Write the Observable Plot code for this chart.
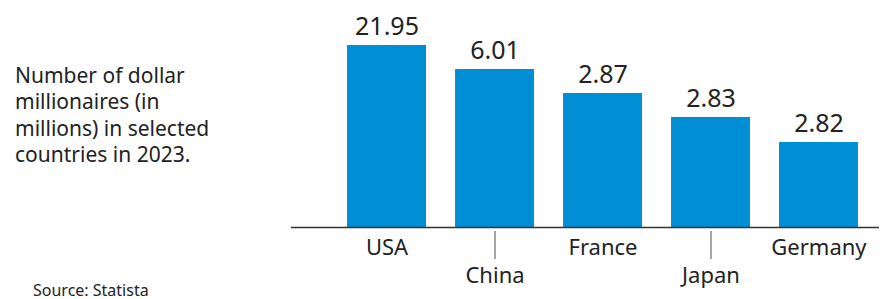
<!DOCTYPE html>
<html>
<head>
<meta charset="utf-8">
<script src="https://cdn.jsdelivr.net/npm/d3@7"></script>
<script src="https://cdn.jsdelivr.net/npm/@observablehq/plot@0.6"></script>
<style>
  html, body { margin: 0; padding: 0; background: #fff; }
  #wrap { position: relative; width: 884px; height: 299px; overflow: hidden; font-family: "Noto Sans", sans-serif; color: #222; }
  #chart { position: absolute; left: 0; top: 0; }
  #desc { position: absolute; left: 15px; top: 62px; width: 240px; font-size: 21px; line-height: 26.3px; color: #222; }
  #source { position: absolute; left: 33px; top: 283px; font-size: 16px; line-height: 14px; color: #222; white-space: nowrap; }
</style>
</head>
<body>
<div id="wrap">
  <div id="chart"></div>
  <div id="desc">Number of dollar<br>millionaires (in<br>millions) in selected<br>countries in 2023.</div>
  <div id="source">Source: Statista</div>
</div>
<script>
// Data
const countries = ["USA", "China", "France", "Japan", "Germany"];
const values = [21.95, 6.01, 2.87, 2.83, 2.82];            // labelled values (millions)
const barLength = [182, 158, 134, 110, 85];                 // drawn bar lengths (relative units)
const upperLabels = ["USA", "France", "Germany"];
const lowerLabels = ["China", "Japan"];

const data = countries.map((c, i) => ({country: c, value: values[i], len: barLength[i]}));

const chart = Plot.plot({
  width: 884,
  height: 299,
  marginLeft: 291,
  marginRight: 5,
  marginTop: 45,
  marginBottom: 72,
  style: {fontFamily: "Noto Sans, sans-serif", background: "transparent", color: "#222"},
  x: {domain: countries, paddingInner: 0.269, paddingOuter: 0.357, align: 0.727, round: false, axis: null, label: null},
  y: {domain: [0, 182], axis: null, label: null},
  marks: [
    Plot.barY(data, {x: "country", y: "len", fill: "#008fd5"}),
    Plot.ruleY([0], {stroke: "#333", strokeWidth: 1.5}),
    Plot.text(data, {x: "country", y: "len", text: d => d.value.toFixed(2), lineAnchor: "bottom", dy: -11, fontSize: 25, fill: "#222"}),
    Plot.axisX(upperLabels, {tickSize: 0, tickPadding: 12, fontSize: 22, fill: "#222", label: null}),
    Plot.axisX(lowerLabels, {tickSize: 28, tickPadding: 8, dy: 4, fontSize: 22, stroke: "#888", strokeWidth: 1.5, fill: "#222", label: null})
  ]
});
document.getElementById("chart").appendChild(chart);
</script>
</body>
</html>
